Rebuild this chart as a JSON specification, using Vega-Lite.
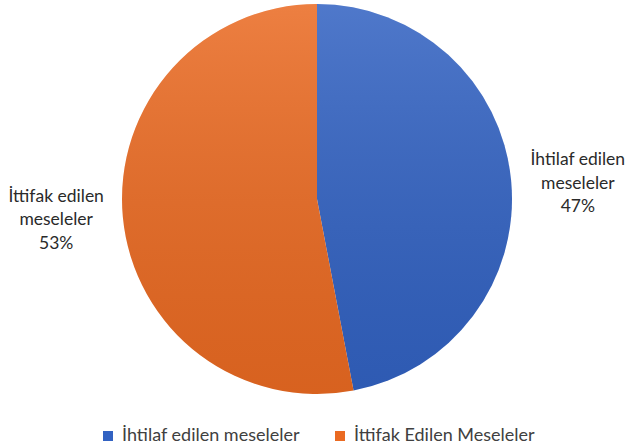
{
  "$schema": "https://vega.github.io/schema/vega-lite/v6.json",
  "width": 620,
  "height": 398,
  "autosize": {"type": "none"},
  "padding": {"left": 7, "top": 0, "right": 0, "bottom": 50},
  "background": "white",
  "config": {"view": {"stroke": null}, "font": "Lato"},
  "data": {
    "values": [
      {"name": "İhtilaf edilen meseleler", "label": ["İhtilaf edilen", "meseleler", "47%"], "value": 47, "order": 1},
      {"name": "İttifak Edilen Meseleler", "label": ["İttifak edilen", "meseleler", "53%"], "value": 53, "order": 2}
    ]
  },
  "encoding": {
    "theta": {"field": "value", "type": "quantitative", "stack": true},
    "order": {"field": "order", "type": "ordinal"}
  },
  "layer": [
    {
      "mark": {"type": "arc", "outerRadius": 195},
      "encoding": {
        "color": {
          "field": "name",
          "type": "nominal",
          "sort": ["İhtilaf edilen meseleler", "İttifak Edilen Meseleler"],
          "scale": {"domain": ["İhtilaf edilen meseleler", "İttifak Edilen Meseleler"], "range": ["#3262c2", "#ea6a22"]},
          "legend": {
            "title": null,
            "orient": "none",
            "direction": "horizontal",
            "legendX": 92,
            "legendY": 427,
            "symbolType": "square",
            "symbolSize": 100,
            "symbolStrokeWidth": 0,
            "labelFontSize": 18,
            "labelColor": "#404040",
            "labelFont": "Lato",
            "labelOffset": 5,
            "columnPadding": 31,
            "labelLimit": 300
          }
        }
      }
    },
    {
      "mark": {
        "type": "arc",
        "outerRadius": 195,
        "fill": {
          "gradient": "linear",
          "x1": 0, "y1": 0, "x2": 0, "y2": 1,
          "stops": [
            {"offset": 0, "color": "rgba(255,255,255,0.14)"},
            {"offset": 1, "color": "rgba(0,0,0,0.08)"}
          ]
        }
      }
    },
    {
      "mark": {"type": "text", "radius": 262, "dy": -14, "fontSize": 17.5, "lineHeight": 23.5, "color": "#2a2a2a", "align": "center", "baseline": "middle"},
      "encoding": {
        "text": {"condition": {"test": "datum.order == 1", "field": "label"}, "value": ""}
      }
    },
    {
      "mark": {"type": "text", "radius": 262, "dy": -27, "fontSize": 17.5, "lineHeight": 23.5, "color": "#2a2a2a", "align": "center", "baseline": "middle"},
      "encoding": {
        "text": {"condition": {"test": "datum.order == 2", "field": "label"}, "value": ""}
      }
    }
  ]
}
